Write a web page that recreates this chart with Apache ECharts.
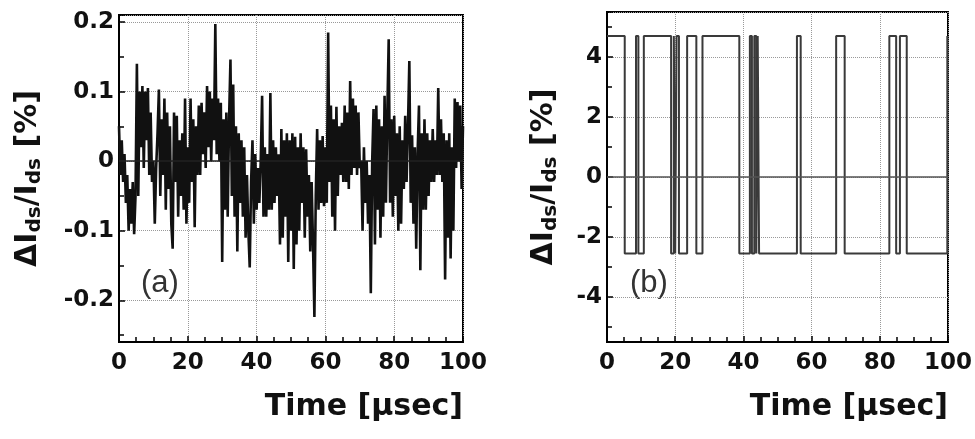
<!DOCTYPE html>
<html>
<head>
<meta charset="utf-8">
<script src="https://cdn.jsdelivr.net/npm/echarts/dist/echarts.min.js"></script>
<style>
  html, body { margin: 0; padding: 0; background: #fff; overflow: hidden; }
  #chart { width: 975px; height: 439px; }
</style>
</head>
<body>
<div id="chart"></div>
<script>
// panel (a): noise trace, sampled every 0.4 usec from 0 to 100
const aValues = [
  0.05, -0.02, 0.03, -0.03, 0.01, -0.06,
  -0.02, -0.1, -0.04, -0.09, -0.03, -0.105, -0.05,
  0.14, -0.05,
  0.1, 0.02, 0.108, -0.01, 0.1, 0.03, 0.105, -0.02, 0.07,
  -0.03, 0.0, -0.09, -0.01, 0.04,
  0.103, -0.05, 0.06, -0.02, 0.09, -0.07,
  0.07, -0.04, 0.05, -0.09, -0.126, 0.07, -0.03,
  0.065, -0.08, 0.03, -0.05, 0.04,
  -0.07, 0.09, -0.09, 0.02, -0.06,
  0.09, -0.03, 0.06, -0.095, 0.05, -0.02, 0.08,
  -0.02, 0.084, 0.01, 0.07, -0.01,
  0.108, 0.02, 0.1, 0.0, 0.09, 0.03,
  0.197, 0.01, 0.09, 0.0,
  0.084, -0.145, 0.06, -0.07,
  0.07, -0.08, 0.06,
  0.146, -0.05, 0.11,
  -0.08, 0.05, -0.13,
  0.04, -0.06, 0.03, -0.08,
  0.02, -0.11, -0.02,
  -0.1, -0.153, -0.03,
  0.03, -0.09, 0.01, -0.07,
  -0.01, -0.06, 0.0,
  0.094, -0.08, 0.02,
  -0.08, 0.01, -0.07,
  0.098, -0.07, 0.03,
  -0.06, 0.02, -0.05, 0.01, -0.12,
  0.046, -0.11, 0.03, -0.08,
  0.04, -0.145, 0.03, -0.1,
  0.04, -0.155, 0.035, -0.12, 0.02,
  -0.1, 0.04, -0.06, 0.02,
  -0.11, 0.017, -0.08, -0.02,
  -0.13, -0.03, -0.12,
  -0.224, -0.05,
  0.046, -0.07, 0.03,
  -0.06, 0.036, -0.065, 0.02,
  -0.06, 0.185, -0.03,
  0.08, -0.08, 0.06,
  -0.1, 0.078, -0.05,
  0.05, -0.02, 0.055, -0.03,
  0.08, -0.03, 0.07,
  -0.04, 0.115, -0.02, 0.09,
  -0.01, 0.08, -0.02, 0.07, -0.01,
  0.0, -0.1, 0.02, -0.06, 0.0, -0.09,
  -0.02, -0.19, 0.0,
  0.075, -0.12, 0.08, -0.07,
  0.06, -0.11, 0.05, -0.08,
  0.094, -0.06, 0.07,
  0.175, -0.06, 0.06,
  -0.08, 0.065, -0.05, 0.04,
  -0.1, 0.05, -0.09, 0.03,
  -0.04, 0.065, -0.03, 0.05,
  0.144, -0.06,
  0.037, -0.09, 0.02, -0.126, 0.01,
  0.08, -0.157, 0.04, -0.07,
  0.06, -0.07, 0.04, -0.05, 0.03,
  -0.03, 0.046, -0.03, 0.03, -0.02,
  0.105, -0.02, 0.06, -0.03,
  0.04, -0.17, 0.03, -0.11,
  0.04, -0.14, 0.02, -0.1,
  0.09, -0.01, 0.085, 0.0,
  0.08, -0.04, 0.05
]

// panel (b): two-level switching, time of each switch and level after it
const hi = 4.7
const lo = -2.55
const bTimes = [0, 5.2, 8.5, 9.2, 10.8, 18.8, 19.6, 20.0, 20.4, 21.1, 23.5, 26.2, 28.0, 38.8,
  41.9, 42.5, 43.2, 43.8, 44.2, 44.6, 55.7, 56.8, 67.2, 69.7, 82.8, 84.8, 85.9, 87.9, 99.8, 100]
const bValues = [hi, lo, hi, lo, hi, lo, hi, lo, hi, lo, hi, lo, hi, lo,
  hi, lo, hi, lo, hi, lo, hi, lo, hi, lo, hi, lo, hi, lo, hi, hi]

const xTicks = [0, 20, 40, 60, 80, 100]

const font = 'DejaVu Sans, Arial, sans-serif'
const aData = aValues.map((v, i) => [i * 100 / (aValues.length - 1), v])
const bData = bTimes.map((t, i) => [t, bValues[i]])

function xAxisOf (gridIndex) {
  return {
    gridIndex: gridIndex,
    type: 'value',
    min: xTicks[0],
    max: xTicks[xTicks.length - 1],
    interval: 20,
    name: 'Time [\u03bcsec]',
    nameLocation: 'end',
    nameGap: 0,
    nameTextStyle: {
      fontFamily: font, fontWeight: 'bold', fontSize: 30, color: '#111',
      align: 'right', verticalAlign: 'top', padding: [50, 0, 0, 0]
    },
    axisLine: { onZero: false, lineStyle: { color: '#000', width: 2 } },
    axisTick: { inside: true, length: 6, lineStyle: { color: '#000', width: 1.5 } },
    minorTick: { show: true, splitNumber: 4, length: 5, lineStyle: { color: '#000', width: 1.5 } },
    axisLabel: { fontFamily: font, fontWeight: 'bold', fontSize: 23, color: '#111', margin: 10 },
    splitLine: { show: true, lineStyle: { color: '#999', type: 'dotted', width: 1 } }
  }
}

function yAxisOf (gridIndex, min, max, gap) {
  return {
    gridIndex: gridIndex,
    type: 'value',
    min: min,
    max: max,
    name: '{m|\u0394I}{s|ds}{m|/I}{s|ds}{m| [%]}',
    nameLocation: 'middle',
    nameGap: gap,
    nameRotate: 90,
    nameTextStyle: {
      rich: {
        m: { fontFamily: font, fontWeight: 'bold', fontSize: 30, color: '#111' },
        s: { fontFamily: font, fontWeight: 'bold', fontSize: 20, color: '#111', padding: [14, 0, 0, 0] }
      }
    },
    axisLine: { onZero: false, lineStyle: { color: '#000', width: 2 } },
    axisTick: { inside: true, length: 6, lineStyle: { color: '#000', width: 1.5 } },
    minorTick: { show: true, splitNumber: 2, length: 5, lineStyle: { color: '#000', width: 1.5 } },
    axisLabel: {
      fontFamily: font, fontWeight: 'bold', fontSize: 23, color: '#111', margin: 5,
      showMinLabel: false, showMaxLabel: false
    },
    splitLine: { show: true, lineStyle: { color: '#999', type: 'dotted', width: 1 } }
  }
}

const zeroLine = (color) => ({
  silent: true,
  symbol: 'none',
  label: { show: false },
  lineStyle: { color: color, type: 'solid', width: 1.5 },
  data: [{ yAxis: 0 }]
})

const chart = echarts.init(document.getElementById('chart'))
chart.setOption({
  animation: false,
  backgroundColor: '#fff',
  grid: [
    { left: 119, top: 15, right: 512, bottom: 97, show: true, borderColor: '#000', borderWidth: 2 },
    { left: 607, top: 12, right: 22, bottom: 97, show: true, borderColor: '#000', borderWidth: 2 }
  ],
  xAxis: [xAxisOf(0), xAxisOf(1)],
  yAxis: [yAxisOf(0, -0.26, 0.21, 74), yAxisOf(1, -5.5, 5.5, 46)],
  series: [
    {
      name: 'a',
      type: 'line',
      xAxisIndex: 0,
      yAxisIndex: 0,
      data: aData,
      showSymbol: false,
      lineStyle: { color: '#111', width: 2.6 },
      markLine: zeroLine('#222')
    },
    {
      name: 'b',
      type: 'line',
      xAxisIndex: 1,
      yAxisIndex: 1,
      data: bData,
      step: 'end',
      showSymbol: false,
      lineStyle: { color: '#3a3a3a', width: 2 },
      markLine: zeroLine('#555')
    }
  ],
  graphic: [
    { type: 'text', left: 141, top: 268, style: { text: '(a)', fontFamily: 'Liberation Sans, Arial', fontSize: 31, fill: '#333' } },
    { type: 'text', left: 630, top: 268, style: { text: '(b)', fontFamily: 'Liberation Sans, Arial', fontSize: 31, fill: '#333' } }
  ]
})
</script>
</body>
</html>
